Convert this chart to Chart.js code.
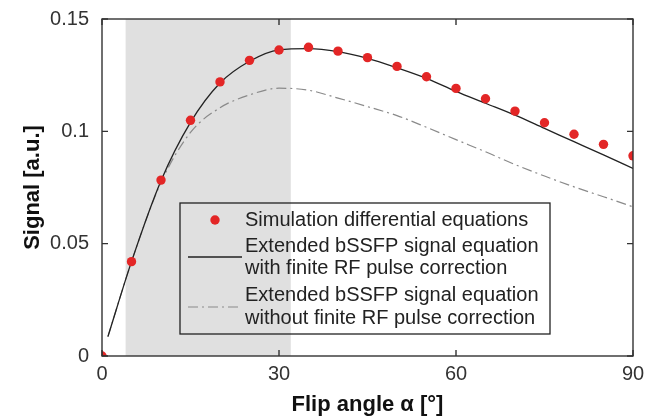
<!DOCTYPE html>
<html><head><meta charset="utf-8">
<script src="https://cdn.jsdelivr.net/npm/chart.js@4/dist/chart.umd.min.js"></script>
<style>html,body{margin:0;padding:0;background:#fff}#wrap{width:652px;height:418px}</style>
</head><body><div id="wrap"><canvas id="c" width="652" height="418"></canvas></div>
<script>
// ---- data ----
const simAngles = [0,5,10,15,20,25,30,35,40,45,50,55,60,65,70,75,80,85,90];
const simSignal = [0,0.042,0.0783,0.1049,0.122,0.1316,0.1362,0.1374,0.1357,0.1328,0.1289,0.1243,0.1191,0.1145,0.1090,0.1038,0.0987,0.0942,0.0891];
const curveAngles = [1,5,10,15,20,25,30,35,40,45,50,55,60,65,70,75,80,85,90];
const withCorrection = [0.0086,0.042,0.078,0.104,0.1215,0.1312,0.1363,0.1368,0.1355,0.1325,0.1283,0.1236,0.1178,0.1125,0.1072,0.1013,0.0954,0.0895,0.0835];
const withoutCorrection = [0.0086,0.042,0.0772,0.0995,0.1105,0.1162,0.1192,0.1183,0.1148,0.111,0.1070,0.1018,0.0963,0.0909,0.0852,0.0801,0.0753,0.0709,0.0664];
const xTicks = [0,30,60,90];
const yTicks = [0,0.05,0.1,0.15];
const yTickLabels = ['0','0.05','0.1','0.15'];
const shadedRange = [4,32];
const seriesNames = [
  ['Simulation differential equations'],
  ['Extended bSSFP signal equation','with finite RF pulse correction'],
  ['Extended bSSFP signal equation','without finite RF pulse correction']
];

const FONT = '"Liberation Sans", Arial, Helvetica, sans-serif';
const toXY = (xs, ys) => xs.map((x,i)=>({x:x, y:ys[i]}));

const shadePlugin = {
  id:'shade',
  beforeDatasetsDraw(chart){
    const {ctx, chartArea:a, scales:{x}} = chart;
    const x0 = x.getPixelForValue(shadedRange[0]), x1 = x.getPixelForValue(shadedRange[1]);
    ctx.save();
    ctx.fillStyle = '#e0e0e0';
    ctx.fillRect(x0, a.top, x1-x0, a.bottom-a.top);
    ctx.restore();
  }
};

const framePlugin = {
  id:'frame',
  afterDatasetsDraw(chart){
    const {ctx, chartArea:a, scales:{x,y}} = chart;
    ctx.save();
    ctx.strokeStyle = '#333';
    ctx.lineWidth = 1.4;
    ctx.strokeRect(a.left, a.top, a.right-a.left, a.bottom-a.top);
    ctx.beginPath();
    const tl = 6;
    xTicks.forEach(v=>{
      const px = x.getPixelForValue(v);
      ctx.moveTo(px, a.bottom); ctx.lineTo(px, a.bottom-tl);
      ctx.moveTo(px, a.top); ctx.lineTo(px, a.top+tl);
    });
    yTicks.forEach(v=>{
      const py = y.getPixelForValue(v);
      ctx.moveTo(a.left, py); ctx.lineTo(a.left+tl, py);
      ctx.moveTo(a.right, py); ctx.lineTo(a.right-tl, py);
    });
    ctx.stroke();
    ctx.restore();
  }
};

const legendPlugin = {
  id:'boxLegend',
  afterDraw(chart){
    const ctx = chart.ctx;
    const L = 180, T = 203, R = 550, B = 334;
    ctx.save();
    ctx.strokeStyle = '#222';
    ctx.lineWidth = 1.3;
    ctx.strokeRect(L, T, R-L, B-T);
    ctx.font = '20px ' + FONT;
    ctx.fillStyle = '#222';
    ctx.textBaseline = 'middle';
    const tx = 245;
    const rows = [[220.5],[246,268.5],[295.5,318]];
    seriesNames.forEach((lines, i)=>{
      lines.forEach((t, j)=> ctx.fillText(t, tx, rows[i][j]));
    });
    ctx.fillStyle = '#e32626';
    ctx.beginPath(); ctx.arc(215, 220, 4.7, 0, Math.PI*2); ctx.fill();
    ctx.strokeStyle = '#222'; ctx.lineWidth = 1.3;
    ctx.beginPath(); ctx.moveTo(188, 257); ctx.lineTo(242, 257); ctx.stroke();
    ctx.strokeStyle = '#8a8a8a'; ctx.lineWidth = 1.2; ctx.setLineDash([10,4,2,4]);
    ctx.beginPath(); ctx.moveTo(188, 307); ctx.lineTo(242, 307); ctx.stroke();
    ctx.restore();
  }
};

new Chart(document.getElementById('c'), {
  type:'scatter',
  data:{
    datasets:[
      {label:seriesNames[0].join(' '), data:toXY(simAngles, simSignal), showLine:false,
       pointRadius:4.7, pointHoverRadius:4.7, pointBackgroundColor:'#e32626', pointBorderWidth:0, order:0},
      {label:seriesNames[1].join(' '), data:toXY(curveAngles, withCorrection), showLine:true,
       borderColor:'#222', borderWidth:1.3, pointRadius:0, cubicInterpolationMode:'monotone', order:1},
      {label:seriesNames[2].join(' '), data:toXY(curveAngles, withoutCorrection), showLine:true,
       borderColor:'#8a8a8a', borderWidth:1.2, borderDash:[10,4,2,4], pointRadius:0, cubicInterpolationMode:'monotone', order:2}
    ]
  },
  options:{
    responsive:false, animation:false, devicePixelRatio:1,
    layout:{padding:{left:0, right:19, top:19, bottom:0}},
    plugins:{legend:{display:false}, tooltip:{enabled:false}},
    scales:{
      x:{type:'linear', min:0, max:90,
        afterBuildTicks(s){ s.ticks = xTicks.map(v=>({value:v})); },
        afterFit(s){ s.height = 62; },
        grid:{display:false}, border:{display:false},
        ticks:{padding:-2, color:'#333', font:{family:FONT, size:20}, callback:(v)=>String(v), maxRotation:0, autoSkip:false},
        title:{display:true, text:'Flip angle α [°]', color:'#111', font:{family:FONT, size:22, weight:'bold'}, padding:{top:0, bottom:0}}
      },
      y:{type:'linear', min:0, max:0.15,
        afterBuildTicks(s){ s.ticks = yTicks.map(v=>({value:v})); },
        afterFit(s){ s.width = 102; },
        grid:{display:false}, border:{display:false},
        ticks:{padding:5, color:'#333', font:{family:FONT, size:20}, callback:(v,i)=>yTickLabels[i], autoSkip:false},
        title:{display:true, text:'Signal [a.u.]', color:'#111', font:{family:FONT, size:22, weight:'bold'}, padding:{top:20, bottom:0}}
      }
    }
  },
  plugins:[shadePlugin, framePlugin, legendPlugin]
});
</script></body></html>
